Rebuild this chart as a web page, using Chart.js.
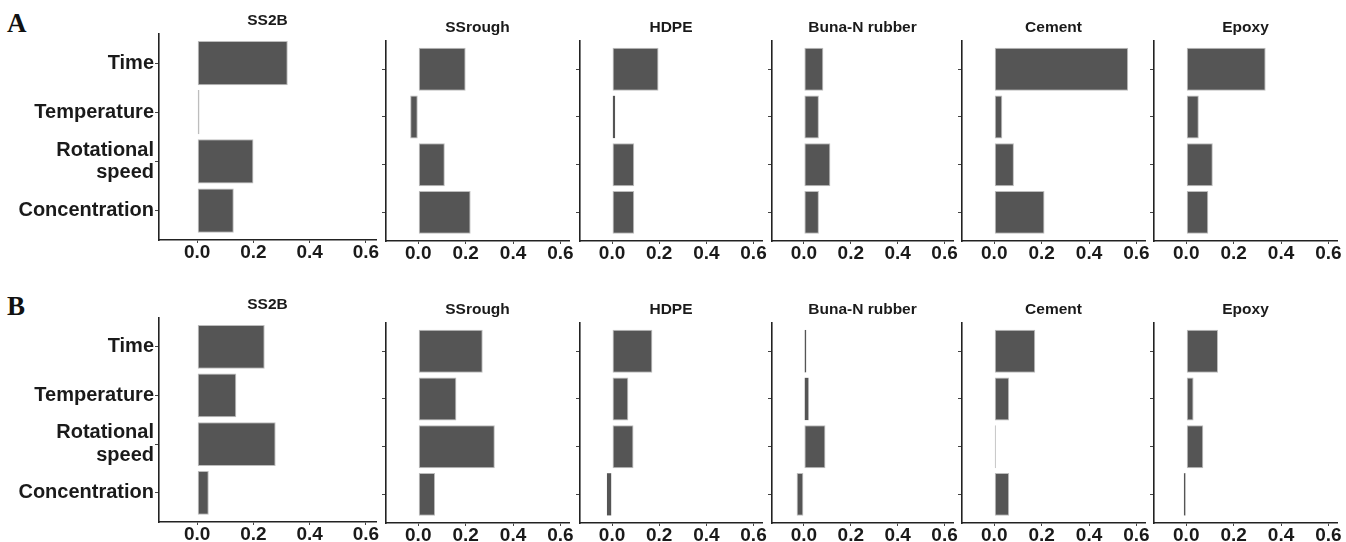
<!DOCTYPE html>
<html><head><meta charset="utf-8">
<script src="https://cdn.jsdelivr.net/npm/chart.js@4"></script>
<style>
html,body{margin:0;padding:0;background:#fff;overflow:hidden;width:1346px;height:542px;position:relative;}
canvas{position:absolute;}
.letter{position:absolute;font-family:'Liberation Serif','Times New Roman',serif;font-weight:bold;font-size:27px;line-height:27px;color:#111;}
</style></head><body>
<div class="letter" style="left:7px;top:10px">A</div>
<div class="letter" style="left:7px;top:293px">B</div>
<script>
// ---- data ----
const categories = ['Time', 'Temperature', ['Rotational', 'speed'], 'Concentration'];
const materials = ['SS2B', 'SSrough', 'HDPE', 'Buna-N rubber', 'Cement', 'Epoxy'];
const xTickValues = [0, 0.2, 0.4, 0.6];
// Panel A: values for Time, Temperature, Rotational speed, Concentration
const ss2bA    = [0.322, 0.008, 0.200, 0.130];
const ssroughA = [0.200, -0.034, 0.112, 0.221];
const hdpeA    = [0.197, 0.014, 0.094, 0.094];
const bunaA    = [0.083, 0.064, 0.113, 0.064];
const cementA  = [0.565, 0.034, 0.083, 0.212];
const epoxyA   = [0.335, 0.053, 0.112, 0.093];
// Panel B
const ss2bB    = [0.240, 0.139, 0.279, 0.041];
const ssroughB = [0.272, 0.161, 0.323, 0.071];
const hdpeB    = [0.171, 0.069, 0.091, -0.023];
const bunaB    = [0.011, 0.021, 0.092, -0.031];
const cementB  = [0.173, 0.063, 0.007, 0.063];
const epoxyB   = [0.134, 0.031, 0.072, -0.011];

const seriesA = [ss2bA, ssroughA, hdpeA, bunaA, cementA, epoxyA];
const seriesB = [ss2bB, ssroughB, hdpeB, bunaB, cementB, epoxyB];

// ---- layout (plot-area rectangles: left, right, top, bottom) ----
const layoutA = [[159,376,33,240],[386,569,40,241],[580,762,40,241],[772,953,40,241],[962,1145,40,241],[1154,1337,40,241]];
const layoutB = [[159,376,317,522],[386,569,322,523],[580,762,322,523],[772,953,322,523],[962,1145,322,523],[1154,1337,322,523]];

const FONT = "'Liberation Sans', Arial, Helvetica, sans-serif";
const TXT = '#1a1a1a';
const AXIS = '#222';
const TH = 26, XH = 32, RP = 16;

function barBorder(ctx) {
  const v = Math.abs(ctx.raw ? ctx.raw.x : 0);
  if (v < 0.01) return 1;       // near-zero bar: outline only
  if (v < 0.03) return 0.35;    // narrow bar: keep dark fill visible
  return 1;
}

function makePanel(geom, title, values, showLabels) {
  const [l, r, t, b] = geom;
  const yw = showLabels ? l : 12;
  const W = yw + (r - l) + RP;
  const H = TH + (b - t) + XH;
  const cv = document.createElement('canvas');
  cv.width = W; cv.height = H;
  cv.style.left = (l - yw) + 'px';
  cv.style.top = (t - TH) + 'px';
  cv.style.width = W + 'px';
  cv.style.height = H + 'px';
  document.body.appendChild(cv);
  new Chart(cv, {
    type: 'bar',
    data: {
      datasets: [{
        data: values.map((v, i) => ({ x: v, y: i })),
        backgroundColor: '#555555',
        borderColor: '#bdbdbd',
        borderWidth: barBorder,
        borderSkipped: false,
        categoryPercentage: 1,
        barPercentage: 0.9
      }]
    },
    options: {
      indexAxis: 'y',
      responsive: false,
      animation: false,
      events: [],
      devicePixelRatio: 1,
      layout: { padding: { left: 0, right: RP, top: 0, bottom: 0 } },
      plugins: {
        legend: { display: false },
        tooltip: { enabled: false },
        title: {
          display: true, text: title, fullSize: false,
          color: TXT,
          font: { family: FONT, size: 15.5, weight: 'bold', lineHeight: 1.2 },
          padding: { top: 4, bottom: 4 }
        }
      },
      scales: {
        x: {
          type: 'linear', min: -0.136, max: 0.636,
          afterBuildTicks: s => { s.ticks = xTickValues.map(v => ({ value: v })); },
          afterFit: s => { s.height = XH; s.paddingLeft = 0; s.paddingRight = 0; },
          grid: { drawOnChartArea: false, drawTicks: true, tickLength: 3, color: '#444', tickWidth: 1 },
          border: { display: true, color: AXIS, width: 1.6 },
          ticks: {
            autoSkip: false, maxRotation: 0, minRotation: 0, padding: 0,
            color: TXT,
            font: { family: FONT, size: 19, weight: 'bold', lineHeight: 1 },
            callback: v => Number(v).toFixed(1)
          }
        },
        y: {
          type: 'linear', reverse: true, min: -0.6, max: 3.6, offset: false,
          afterBuildTicks: s => { s.ticks = categories.map((c, i) => ({ value: i })); },
          afterFit: s => { s.width = yw; s.paddingTop = 0; s.paddingBottom = 0; },
          grid: { offset: false, drawOnChartArea: false, drawTicks: true, tickLength: 4, color: '#444', tickWidth: 1 },
          border: { display: true, color: AXIS, width: 1.6 },
          ticks: {
            autoSkip: false, padding: 1,
            color: TXT,
            font: { family: FONT, size: 20, weight: 'bold', lineHeight: 1.12 },
            callback: v => showLabels ? categories[v] : ''
          }
        }
      }
    }
  });
}

materials.forEach((m, i) => makePanel(layoutA[i], m, seriesA[i], i === 0));
materials.forEach((m, i) => makePanel(layoutB[i], m, seriesB[i], i === 0));
</script>
</body></html>
